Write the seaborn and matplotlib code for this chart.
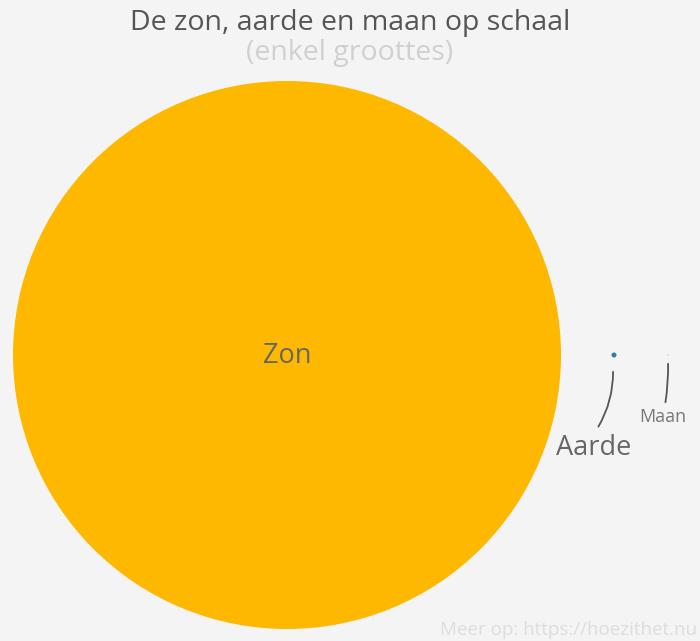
import matplotlib
matplotlib.use("Agg")
import matplotlib.pyplot as plt
from matplotlib.patches import Circle, FancyArrowPatch
import seaborn as sns

# Data (diameters in km)
bodies = ["Zon", "Aarde", "Maan"]
diameters_km = [1392700, 12742, 3474]
colors = ["#FFB800", "#2f7f9e", "#bbbbbb"]

title = "De zon, aarde en maan op schaal"
subtitle = "(enkel groottes)"
footer = "Meer op: https://hoezithet.nu"

sns.set_theme(style="white")
plt.rcParams["font.family"] = ["Open Sans", "DejaVu Sans"]
FW = "normal"

W, H = 700, 641
fig = plt.figure(figsize=(W / 100, H / 100), dpi=100, facecolor="#f4f4f4")
ax = fig.add_axes([0, 0, 1, 1])
ax.set_facecolor("#f4f4f4")

# scale: km per pixel so that the sun spans 548 px
k = diameters_km[0] / 548.0
sun_cx_px, sun_cy_px = 287, H - 355
ax.set_xlim(-sun_cx_px * k, (W - sun_cx_px) * k)
ax.set_ylim(-sun_cy_px * k, (H - sun_cy_px) * k)
ax.set_axis_off()

# layout (pixel offsets from sun centre)
xpos = [0, 327 * k, 381 * k]
for name, d, c, x in zip(bodies, diameters_km, colors, xpos):
    ax.add_patch(Circle((x, 0), d / 2, facecolor=c, edgecolor="none"))

ax.text(0, -1 * k, bodies[0], ha="center", va="center", fontsize=19.5,
        color="#666666", fontweight=FW)

lc = "#555555"
# Aarde annotation
ex = xpos[1]
arr = FancyArrowPatch((ex - 1 * k, -14 * k), (ex - 17 * k, -74 * k),
                      arrowstyle="-", connectionstyle="arc3,rad=-0.15",
                      color=lc, lw=1.3)
ax.add_patch(arr)
ax.text(ex - 20 * k, -93 * k, bodies[1], ha="center", va="center",
        fontsize=19.5, color="#666666", fontweight=FW)

# Maan annotation
mx = xpos[2]
arr2 = FancyArrowPatch((mx, -6 * k), (mx - 3 * k, -50 * k),
                       arrowstyle="-", connectionstyle="arc3,rad=-0.05",
                       color=lc, lw=1.3)
ax.add_patch(arr2)
ax.text(mx - 5 * k, -62 * k, bodies[2], ha="center", va="center",
        fontsize=13, color="#777777", fontweight=FW)

fig.text(0.5, 1 - 23 / H, title, ha="center", va="center", fontsize=20.5,
         color="#555555", fontweight=FW)
fig.text(0.5, 1 - 53 / H, subtitle, ha="center", va="center", fontsize=20.5,
         color="#d0d0d0", fontweight=FW)
fig.text(697 / W, 1 - 630 / H, footer, ha="right", va="center", fontsize=13.5,
         color="#dddddd", fontweight=FW)

fig.savefig("out.png", dpi=100, facecolor=fig.get_facecolor())
